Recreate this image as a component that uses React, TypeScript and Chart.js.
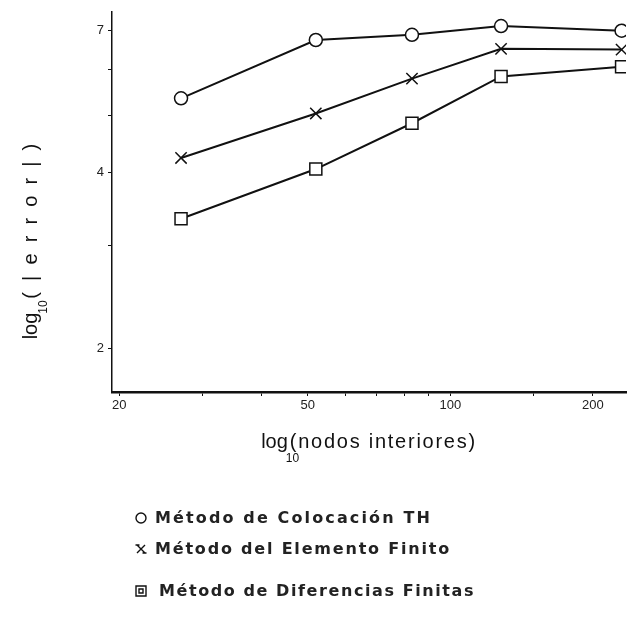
import React, { useEffect, useRef } from "react";
import { Chart, registerables } from "chart.js";

Chart.register(...registerables);

// ---- data ----
const nodes = [27, 52, 83, 128, 230];
const colocacionTH = [5.35, 6.73, 6.87, 7.11, 6.98];
const elementoFinito = [4.23, 5.04, 5.78, 6.5, 6.48];
const diferenciasFinitas = [3.33, 4.05, 4.85, 5.83, 6.06];
const seriesNames = [
  "Método de Colocación TH",
  "Método del Elemento Finito",
  "Método de Diferencias Finitas",
];
const xTickValues = [20, 30, 40, 50, 60, 70, 80, 90, 100, 150, 200];
const xTickLabels = [20, 50, 100, 200];
const yTickValues = [2, 3, 4, 5, 6, 7];
const yTickLabels = [2, 4, 7];
const xTitleMain = "log";
const xTitleSub = "10";
const xTitleRest = "(nodos interiores)";
const yTitleMain = "log";
const yTitleSub = "10";
const yTitleRest = "(|error|)";

const INK = "#111";
const FONT = '"Liberation Sans", Arial, sans-serif';
const LEGEND_FONT = '"DejaVu Sans", sans-serif';
const CANVAS_W = 636;

function spacedText(ctx: CanvasRenderingContext2D, text: string, x: number, y: number, target: number) {
  (ctx as any).letterSpacing = "0px";
  const w = ctx.measureText(text).width;
  const sp = Math.max(0, (target - w) / Math.max(1, text.length));
  (ctx as any).letterSpacing = sp + "px";
  ctx.fillText(text, x, y);
  (ctx as any).letterSpacing = "0px";
  return w + sp * text.length;
}

function drawMarker(ctx: CanvasRenderingContext2D, kind: string, x: number, y: number, s: number) {
  ctx.save();
  ctx.strokeStyle = INK;
  ctx.lineWidth = 1.4;
  ctx.fillStyle = "#fff";
  ctx.beginPath();
  if (kind === "circle") {
    ctx.arc(x, y, s, 0, Math.PI * 2);
    ctx.fill();
    ctx.stroke();
  } else if (kind === "cross") {
    ctx.moveTo(x - s, y - s);
    ctx.lineTo(x + s, y + s);
    ctx.moveTo(x + s, y - s);
    ctx.lineTo(x - s, y + s);
    ctx.moveTo(x - s - 1.5, y - s);
    ctx.lineTo(x - s + 2.5, y - s);
    ctx.moveTo(x + s - 2.5, y + s);
    ctx.lineTo(x + s + 1.5, y + s);
    ctx.stroke();
  } else {
    ctx.rect(x - s, y - s, 2 * s, 2 * s);
    ctx.fill();
    ctx.stroke();
    ctx.beginPath();
    ctx.rect(x - s + 3, y - s + 3, 2 * s - 6, 2 * s - 6);
    ctx.stroke();
  }
  ctx.restore();
}

const annotationPlugin = {
  id: "annotations",
  afterDraw(chart: any) {
    const ctx: CanvasRenderingContext2D = chart.ctx;
    ctx.save();
    ctx.fillStyle = INK;
    ctx.textBaseline = "alphabetic";
    ctx.textAlign = "left";

    // X axis title
    const xCenter = 369;
    ctx.font = "20px " + FONT;
    const mainW = ctx.measureText(xTitleMain).width;
    const restTarget = 187;
    const total = mainW + 2 + restTarget;
    const x0 = xCenter - total / 2;
    ctx.fillText(xTitleMain, x0, 448);
    ctx.font = "12px " + FONT;
    ctx.fillText(xTitleSub, x0 + mainW - 2, 462);
    ctx.font = "20px " + FONT;
    spacedText(ctx, xTitleRest, x0 + mainW + 2, 448, restTarget);

    // Y axis title (rotated)
    ctx.save();
    ctx.translate(37, 236);
    ctx.rotate(-Math.PI / 2);
    ctx.font = "20px " + FONT;
    const ymW = ctx.measureText(yTitleMain).width;
    const yRestTarget = 166;
    const ytotal = ymW + 14 + yRestTarget;
    const ys = -ytotal / 2;
    ctx.fillText(yTitleMain, ys, 0);
    ctx.font = "12px " + FONT;
    ctx.fillText(yTitleSub, ys + ymW - 1, 10);
    ctx.font = "20px " + FONT;
    spacedText(ctx, yTitleRest, ys + ymW + 14, 0, yRestTarget);
    ctx.restore();

    // Legend
    const kinds = ["circle", "cross", "square"];
    const rowsY = [519, 550, 592];
    const textX = [155, 155, 159];
    const widths = [277, 296, 316];
    const markerSize = [5, 4, 5];
    ctx.font = "bold 16px " + LEGEND_FONT;
    ctx.textBaseline = "middle";
    for (let i = 0; i < seriesNames.length; i++) {
      drawMarker(ctx, kinds[i], 141, rowsY[i] - 1, markerSize[i]);
      ctx.fillStyle = "#222";
      spacedText(ctx, seriesNames[i], textX[i], rowsY[i], widths[i]);
    }
    ctx.restore();
  },
};

export default function App() {
  const ref = useRef<HTMLCanvasElement | null>(null);

  useEffect(() => {
    document.body.style.margin = "0";
    const canvas = ref.current;
    if (!canvas) return;
    const toPts = (ys: number[]) => nodes.map((x, i) => ({ x, y: ys[i] }));
    const mk = (label: string, ys: number[], style: string, r: number) => ({
      label,
      data: toPts(ys),
      borderColor: INK,
      borderWidth: 2,
      backgroundColor: "#fff",
      pointStyle: style,
      pointRadius: r,
      pointBorderWidth: 1.5,
      pointBorderColor: INK,
      pointBackgroundColor: "#fff",
      tension: 0,
    });
    const chart = new Chart(canvas, {
      type: "line",
      data: {
        datasets: [
          mk(seriesNames[0], colocacionTH, "circle", 6.5),
          mk(seriesNames[1], elementoFinito, "crossRot", 8),
          mk(seriesNames[2], diferenciasFinitas, "rect", 8.5),
        ],
      },
      options: {
        animation: false,
        responsive: false,
        layout: { padding: { top: 10, right: 0, left: 0, bottom: 0 } },
        plugins: { legend: { display: false }, tooltip: { enabled: false } },
        scales: {
          x: {
            type: "logarithmic",
            min: 19.3,
            max: 235,
            afterFit: (s: any) => {
              s.height = 636 - 392;
            },
            afterBuildTicks: (s: any) => {
              s.ticks = xTickValues.map((v) => ({ value: v }));
            },
            ticks: {
              autoSkip: false,
              maxRotation: 0,
              padding: 2,
              color: "#222",
              font: { family: FONT, size: 13 },
              callback: (v: any) => (xTickLabels.includes(Number(v)) ? String(v) : ""),
            },
            grid: { display: true, drawOnChartArea: false, drawTicks: true, tickLength: 4, color: INK, lineWidth: 1 },
            border: { display: true, color: INK, width: 2.5 },
          },
          y: {
            type: "logarithmic",
            min: 1.684,
            max: 7.52,
            afterFit: (s: any) => {
              s.width = 112;
            },
            afterBuildTicks: (s: any) => {
              s.ticks = yTickValues.map((v) => ({ value: v }));
            },
            ticks: {
              autoSkip: false,
              padding: 4,
              color: "#222",
              font: { family: FONT, size: 13 },
              callback: (v: any) => (yTickLabels.includes(Number(v)) ? String(v) : ""),
            },
            grid: { display: true, drawOnChartArea: false, drawTicks: true, tickLength: 4, color: INK, lineWidth: 1 },
            border: { display: true, color: INK, width: 1.5 },
          },
        },
      },
      plugins: [annotationPlugin],
    } as any);
    return () => chart.destroy();
  }, []);

  return (
    <div style={{ position: "absolute", left: 0, top: 0, width: 627, height: 636, overflow: "hidden", background: "#fff" }}>
      <canvas ref={ref} width={CANVAS_W} height={636} style={{ display: "block" }} />
    </div>
  );
}
